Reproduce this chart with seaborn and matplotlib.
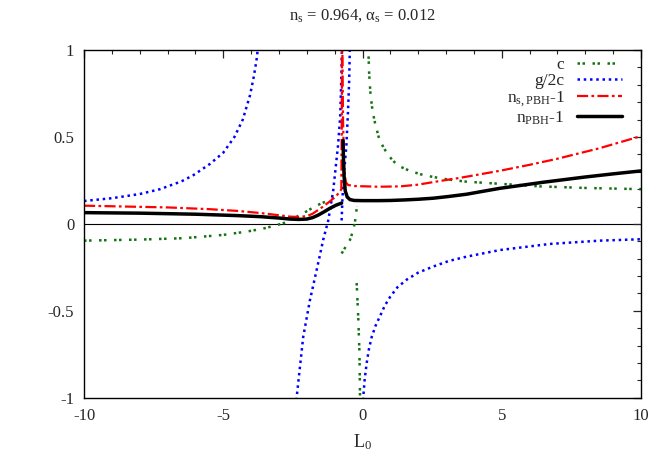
import numpy as np
import pandas as pd
import matplotlib
matplotlib.use("Agg")
import matplotlib.pyplot as plt
import seaborn as sns
from matplotlib.ticker import MultipleLocator

# c : four branches
c_segments = [
    ([-10, -8, -6.43, -5.0, -4.16, -3.6, -3.2, -2.84, -2.5, -2.13, -1.8, -1.5, -1.17, -0.95],
     [-0.096, -0.09, -0.082, -0.063, -0.044, -0.028, -0.012, 0.004, 0.03, 0.061, 0.092, 0.117, 0.138, 0.16]),
    ([-0.75, -0.6, -0.45, -0.33, -0.27, -0.2],
     [-0.17, -0.13, -0.092, -0.034, 0.013, 0.1]),
    ([-0.21, -0.15, -0.11, -0.09, -0.085],
     [-0.34, -0.55, -0.74, -0.99, -1.05]),
    ([0.2, 0.21, 0.24, 0.29, 0.36, 0.45, 0.58, 0.75, 0.95, 1.15, 1.35, 1.7, 2.1, 2.54, 3.1, 3.74,
      4.82, 6.37, 8.0, 10.0],
     [1.05, 1.0, 0.86, 0.74, 0.65, 0.58, 0.5, 0.44, 0.39, 0.355, 0.33, 0.305, 0.285, 0.27, 0.255, 0.243,
      0.232, 0.216, 0.207, 0.20]),
]

# g/2c
g_segments = [
    ([-10, -9, -8, -7.27, -6.5, -6.08, -5.48, -5.0, -4.6, -4.3, -4.04, -3.9, -3.79, -3.74],
     [0.132, 0.148, 0.172, 0.2, 0.245, 0.28, 0.345, 0.41, 0.5, 0.6, 0.74, 0.85, 0.96, 1.05]),
    ([-2.4, -2.36, -2.13, -1.89, -1.64, -1.41, -1.23, -1.05, -0.88, -0.8, -0.76, -0.735],
     [-1.05, -0.99, -0.65, -0.44, -0.26, -0.09, 0.02, 0.195, 0.45, 0.62, 0.85, 1.05]),
    ([-0.75, -0.72, -0.66, -0.58, -0.52, -0.48, -0.45],
     [0.02, 0.15, 0.3, 0.45, 0.65, 0.82, 1.05]),
    ([0.02, 0.03, 0.08, 0.15, 0.23, 0.33, 0.47, 0.63, 0.8, 0.99, 1.25, 1.59, 2.0, 2.54, 3.1, 3.74,
      4.94, 6.73, 8.53, 10.0],
     [-1.05, -0.99, -0.89, -0.80, -0.72, -0.65, -0.585, -0.53, -0.47, -0.42, -0.365, -0.32, -0.28,
      -0.245, -0.213, -0.188, -0.15, -0.115, -0.096, -0.088]),
]

# n_s,PBH - 1
ns_segments = [
    ([-10, -8.5, -7, -5.5, -4.5, -3.68, -3.0, -2.6, -2.3, -2.0, -1.8, -1.5, -1.17, -0.95, -0.81,
      -0.76, -0.745, -0.735, -0.725, -0.70, -0.66, -0.6, -0.52, -0.28, 0.56, 1.35, 2.0, 2.7,
      3.5, 4.2, 4.94, 6.0, 7.0, 8.5, 10.0],
     [0.105, 0.1, 0.095, 0.085, 0.075, 0.063, 0.05, 0.042, 0.04, 0.045, 0.058, 0.09, 0.13, 0.16, 0.186,
      0.2, 0.6, 1.05, 1.05, 0.6, 0.32, 0.24, 0.224, 0.218, 0.214, 0.216, 0.226, 0.245, 0.265, 0.285,
      0.306, 0.34, 0.375, 0.435, 0.505]),
]

# n_PBH - 1
n_segments = [
    ([-10, -8, -6, -4.5, -3.68, -3.0, -2.6, -2.3, -2.0, -1.8, -1.6, -1.4, -1.17, -0.95, -0.75],
     [0.065, 0.062, 0.056, 0.048, 0.042, 0.034, 0.028, 0.026, 0.028, 0.036, 0.05, 0.068, 0.09, 0.108, 0.12]),
    ([-0.70, -0.68, -0.66, -0.62, -0.55, -0.45, -0.3, 0.0, 0.56, 1.0, 1.5, 2.0, 2.54, 3.1, 3.74, 4.3,
      4.94, 5.7, 6.5, 7.3, 8.0, 9.0, 10.0],
     [0.48, 0.35, 0.27, 0.19, 0.155, 0.14, 0.135, 0.134, 0.134, 0.135, 0.138, 0.142, 0.148, 0.158, 0.171,
      0.187, 0.205, 0.222, 0.24, 0.256, 0.27, 0.288, 0.305]),
]

sns.set_style("white")
plt.rcParams["font.family"] = ["Liberation Serif", "DejaVu Serif"]
plt.rcParams["mathtext.fontset"] = "custom"
plt.rcParams["mathtext.rm"] = "Liberation Serif"
plt.rcParams["mathtext.it"] = "Liberation Serif:italic"
plt.rcParams["axes.unicode_minus"] = False

fig = plt.figure(figsize=(6.67, 4.68), dpi=100)
ax = fig.add_axes([0.126, 0.150, 0.835, 0.743])

curves = [
    (c_segments, "c", "#127312", (0, (1.0, 1.0, 1.0, 3.0)), 1.8),
    (g_segments, "g/2c", "#0000ff", (0, (1.0, 1.5)), 1.8),
    (ns_segments, r"$\mathregular{n_{s,PBH}}$-1", "#ff0000", (0, (5, 1.5, 1.2, 1.5)), 1.6),
    (n_segments, r"$\mathregular{n_{PBH}}$-1", "black", "-", 2.5),
]

for segs, label, color, ls, lw in curves:
    for i, (xs, ys) in enumerate(segs):
        sns.lineplot(x=xs, y=ys, ax=ax, estimator=None, sort=False, color=color,
                     linestyle=ls, linewidth=lw, label=label if i == 0 else None)

ax.axhline(0, color="black", linewidth=0.8, zorder=0)

ax.set_xlim(-10, 10)
ax.set_ylim(-1, 1)
ax.xaxis.set_minor_locator(MultipleLocator(1))
ax.yaxis.set_minor_locator(MultipleLocator(0.1))
ax.set_yticks([-1, -0.5, 0, 0.5, 1])
ax.set_yticklabels(["-1", "-0.5", "0", "0.5", "1"])
ax.set_xticks([-10, -5, 0, 5, 10])
ax.set_xticklabels(["-10", "-5", "0", "5", "10"])
ax.tick_params(which="both", direction="in", top=True, right=True, labelsize=12, pad=7)
ax.tick_params(which="major", length=6, width=0.9)
ax.tick_params(which="minor", length=3, width=0.8)
for s in ax.spines.values():
    s.set_color("black")
    s.set_linewidth(1.0)

ax.set_xlabel(r"$\mathregular{L_0}$", fontsize=13, labelpad=6)
ax.set_title(r"$\mathregular{n_s}$ = 0.964, $\mathregular{\alpha_s}$ = 0.012", fontsize=12, pad=22)

ax.legend(loc="upper right", bbox_to_anchor=(0.978, 1.0), frameon=False, markerfirst=False,
          fontsize=12.5, handlelength=2.6, labelspacing=0.0, borderaxespad=0.0,
          handletextpad=0.7)

fig.savefig("out.png", dpi=100)
